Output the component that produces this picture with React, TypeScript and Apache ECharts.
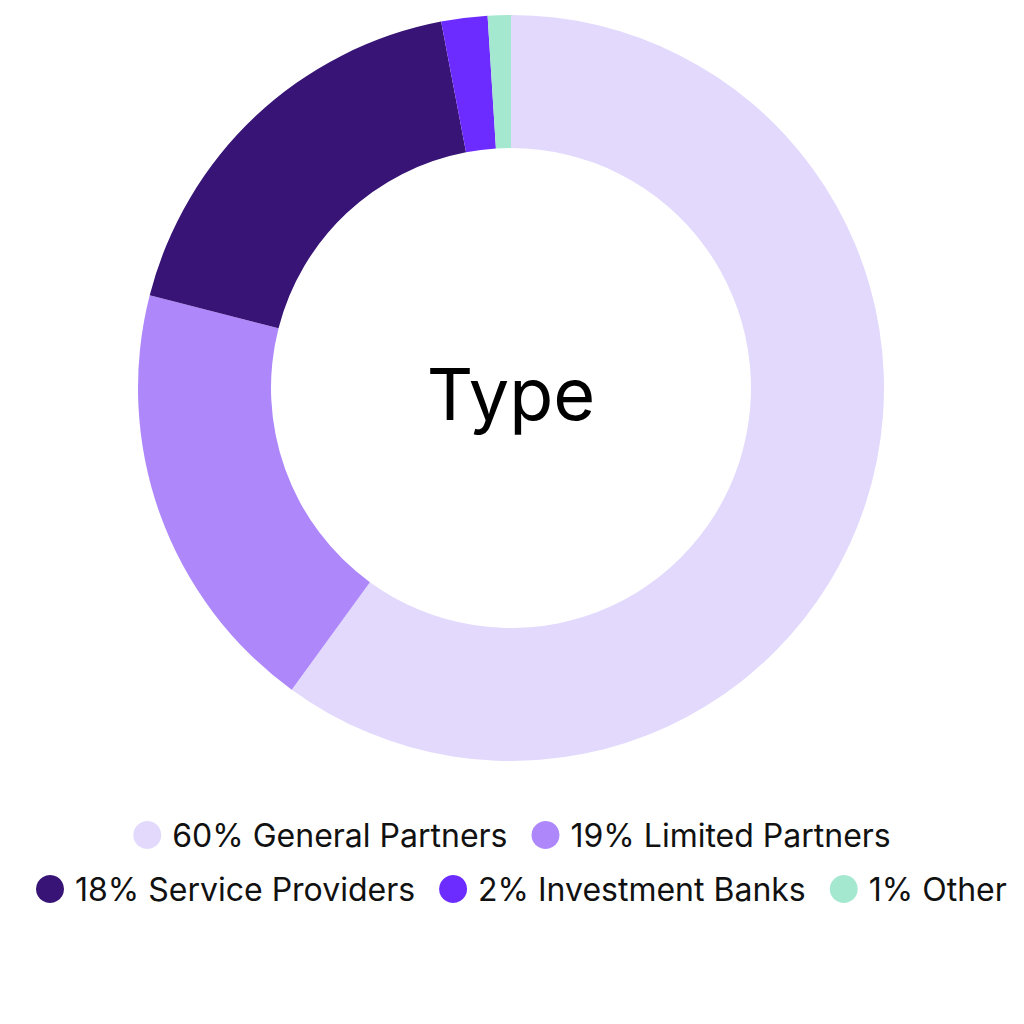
import React, { useEffect, useRef } from "react";
import * as echarts from "echarts";

const categories = ["General Partners", "Limited Partners", "Service Providers", "Investment Banks", "Other"];
const values = [60, 19, 18, 2, 1];
const colors = ["#E2D9FD", "#AE88FA", "#371475", "#6D2CFF", "#A3E8CF"];
const centerLabel = "Type";

export default function App() {
  const ref = useRef<HTMLDivElement>(null);
  useEffect(() => {
    if (!ref.current) return;
    const chart = echarts.init(ref.current, undefined, { renderer: "svg" });
    const names = categories.map((c, i) => `${values[i]}% ${c}`);
    const legendCommon = {
      orient: "horizontal",
      icon: "circle",
      itemWidth: 28,
      itemHeight: 28,
      itemGap: 24,
      textStyle: { fontSize: 32, color: "#111", fontFamily: "Inter", padding: [0, 0, 0, 6] },
      selectedMode: false,
    };
    chart.setOption({
      animation: false,
      color: colors,
      legend: [
        { ...legendCommon, left: "center", top: 814, data: names.slice(0, 2) },
        { ...legendCommon, left: 31, top: 868, data: names.slice(2) },
      ],
      graphic: [
        {
          type: "text",
          x: 511,
          y: 393,
          style: {
            text: centerLabel,
            fontSize: 72,
            fontFamily: "Inter",
            fill: "#000",
            textAlign: "center",
            textVerticalAlign: "middle",
          },
        },
      ],
      series: [
        {
          type: "pie",
          center: [511, 388],
          radius: [240, 373],
          startAngle: 90,
          clockwise: true,
          label: { show: false },
          labelLine: { show: false },
          emphasis: { disabled: true },
          data: names.map((n, i) => ({ name: n, value: values[i], itemStyle: { color: colors[i] } })),
        },
      ],
    });
    return () => chart.dispose();
  }, []);
  return (
    <div
      ref={ref}
      style={{ position: "absolute", left: 0, top: 0, width: 1024, height: 1024, background: "#fff" }}
    />
  );
}
